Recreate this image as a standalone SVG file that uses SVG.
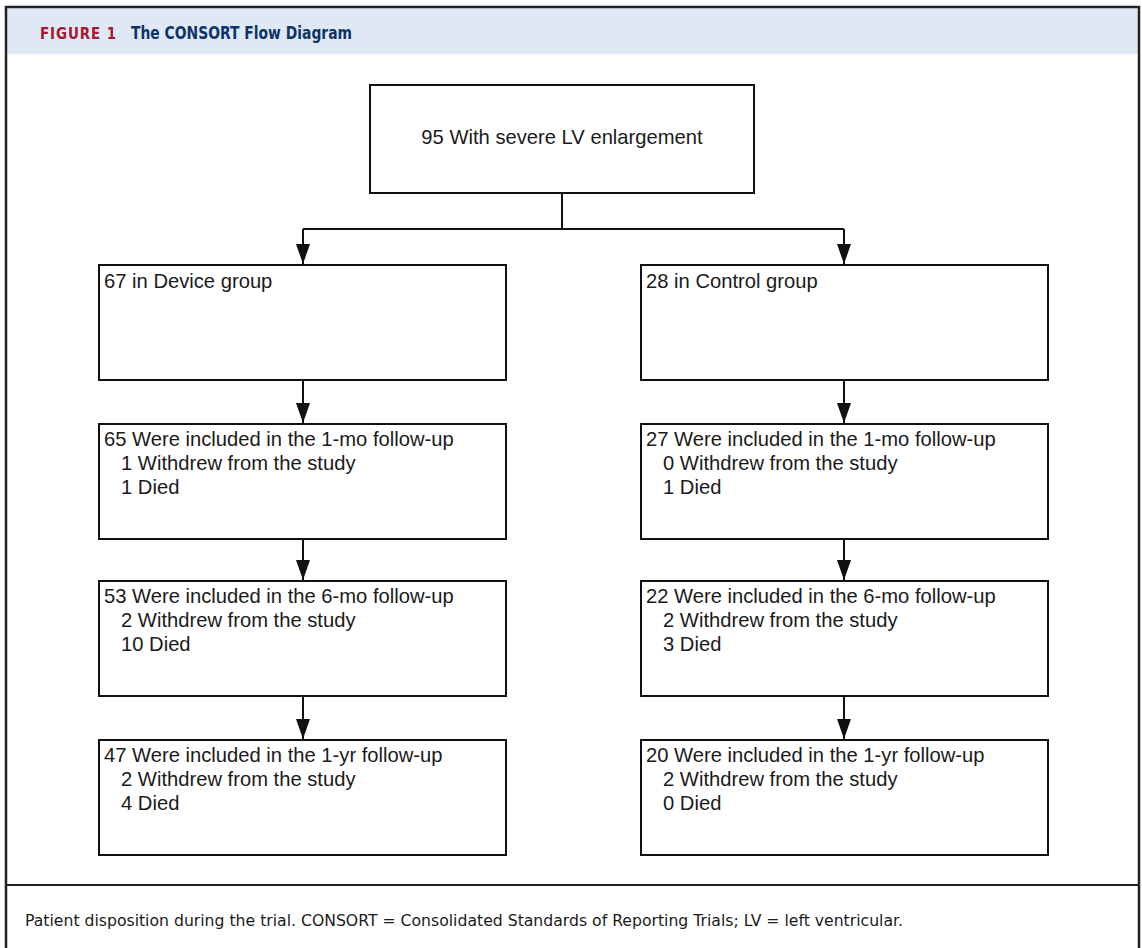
<svg xmlns="http://www.w3.org/2000/svg" width="1142" height="948" viewBox="0 0 1142 948">
<style>
.box{fill:#fff;stroke:#111;stroke-width:2}
.t{font-family:"Liberation Sans",Arial,sans-serif;font-size:20.2px;fill:#1a1a1a}
.c{fill:none;stroke:#111;stroke-width:2}
.frame{stroke:#222;stroke-width:2.5;fill:none}
</style>
<defs>
<marker id="ah" markerUnits="userSpaceOnUse" markerWidth="20" markerHeight="14" viewBox="0 0 20 14" refX="20" refY="7" orient="auto">
<path d="M0,0 L20,7 L0,14 Z" fill="#111"/>
</marker>
</defs>
<rect x="0" y="0" width="1142" height="948" fill="#fff"/>
<rect x="7" y="8" width="1132" height="46" fill="#dfe9f5"/>
<path class="frame" d="M6,948 V7 H1139 V948"/>
<line x1="6" y1="885" x2="1139" y2="885" stroke="#222" stroke-width="2"/>
<text x="40" y="39" font-family="'DejaVu Sans',sans-serif" font-weight="bold" font-size="15" letter-spacing="1" fill="#a3192f" textLength="77" lengthAdjust="spacingAndGlyphs">FIGURE 1</text>
<text x="131" y="39" font-family="'DejaVu Sans',sans-serif" font-weight="bold" font-size="17" fill="#0d3466" textLength="221" lengthAdjust="spacingAndGlyphs">The CONSORT Flow Diagram</text>
<text x="25" y="926" font-family="'DejaVu Sans',sans-serif" font-size="16" fill="#1a1a1a" textLength="878" lengthAdjust="spacingAndGlyphs">Patient disposition during the trial. CONSORT = Consolidated Standards of Reporting Trials; LV = left ventricular.</text>

<g id="connectors">
<path class="c" d="M562,193 V229 M303,229 H844"/>
<path class="c" d="M303,229 V264" marker-end="url(#ah)"/>
<path class="c" d="M844,229 V264" marker-end="url(#ah)"/>
<path class="c" d="M303,380 V423" marker-end="url(#ah)"/>
<path class="c" d="M844,380 V423" marker-end="url(#ah)"/>
<path class="c" d="M303,539 V580" marker-end="url(#ah)"/>
<path class="c" d="M844,539 V580" marker-end="url(#ah)"/>
<path class="c" d="M303,696 V739" marker-end="url(#ah)"/>
<path class="c" d="M844,696 V739" marker-end="url(#ah)"/>
</g>

<g id="n-total">
<rect class="box" x="370" y="85" width="384" height="108"/>
<text class="t" x="562" y="144" text-anchor="middle">95 With severe LV enlargement</text>
</g>
<g id="n-device">
<rect class="box" x="99" y="265" width="407" height="115"/>
<text class="t" x="104" y="288">67 in Device group</text>
</g>
<g id="n-control">
<rect class="box" x="641" y="265" width="407" height="115"/>
<text class="t" x="646" y="288">28 in Control group</text>
</g>
<g id="n-device-1mo">
<rect class="box" x="99" y="424" width="407" height="115"/>
<text class="t" x="104" y="446">65 Were included in the 1-mo follow-up</text>
<text class="t" x="121" y="470">1 Withdrew from the study</text>
<text class="t" x="121" y="494">1 Died</text>
</g>
<g id="n-control-1mo">
<rect class="box" x="641" y="424" width="407" height="115"/>
<text class="t" x="646" y="446">27 Were included in the 1-mo follow-up</text>
<text class="t" x="663" y="470">0 Withdrew from the study</text>
<text class="t" x="663" y="494">1 Died</text>
</g>
<g id="n-device-6mo">
<rect class="box" x="99" y="581" width="407" height="115"/>
<text class="t" x="104" y="603">53 Were included in the 6-mo follow-up</text>
<text class="t" x="121" y="627">2 Withdrew from the study</text>
<text class="t" x="121" y="651">10 Died</text>
</g>
<g id="n-control-6mo">
<rect class="box" x="641" y="581" width="407" height="115"/>
<text class="t" x="646" y="603">22 Were included in the 6-mo follow-up</text>
<text class="t" x="663" y="627">2 Withdrew from the study</text>
<text class="t" x="663" y="651">3 Died</text>
</g>
<g id="n-device-1yr">
<rect class="box" x="99" y="740" width="407" height="115"/>
<text class="t" x="104" y="762">47 Were included in the 1-yr follow-up</text>
<text class="t" x="121" y="786">2 Withdrew from the study</text>
<text class="t" x="121" y="810">4 Died</text>
</g>
<g id="n-control-1yr">
<rect class="box" x="641" y="740" width="407" height="115"/>
<text class="t" x="646" y="762">20 Were included in the 1-yr follow-up</text>
<text class="t" x="663" y="786">2 Withdrew from the study</text>
<text class="t" x="663" y="810">0 Died</text>
</g>
</svg>
